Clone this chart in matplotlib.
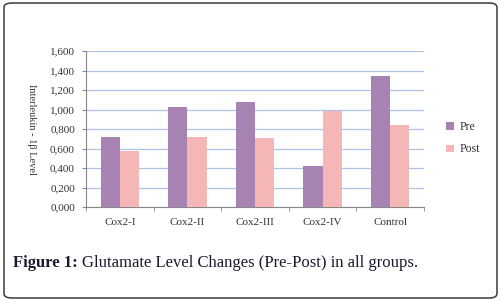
import numpy as np
import matplotlib
matplotlib.use("Agg")
import matplotlib.pyplot as plt
from matplotlib.patches import FancyBboxPatch
from matplotlib.ticker import FuncFormatter

groups = ["Cox2-I", "Cox2-II", "Cox2-III", "Cox2-IV", "Control"]
pre = [0.715, 1.022, 1.077, 0.424, 1.347]
post = [0.574, 0.718, 0.704, 0.988, 0.844]
series_names = ["Pre", "Post"]

plt.rcParams['font.family'] = ['Liberation Serif', 'DejaVu Serif']

fig = plt.figure(figsize=(5.01, 3.01), dpi=100)

# rounded frame around the whole figure
frame = FancyBboxPatch((0.008, 0.01), 0.984, 0.98,
                       boxstyle="round,pad=0,rounding_size=0.015",
                       transform=fig.transFigure, fill=False,
                       edgecolor="#3a3a3a", linewidth=1.1)
fig.patches.append(frame)

ax = fig.add_axes([0.1717, 0.312, 0.6746, 0.5186])
x = np.arange(len(groups))
w = 0.285
ax.bar(x - w / 2, pre, w, color="#A683B3", label=series_names[0], zorder=3)
ax.bar(x + w / 2, post, w, color="#F5B6B6", label=series_names[1], zorder=3)

ax.set_xlim(-0.5, len(groups) - 0.5)
ax.set_ylim(0, 1.6)
ax.set_yticks(np.arange(0, 1.61, 0.2))
ax.yaxis.set_major_formatter(FuncFormatter(lambda v, p: f"{v:.3f}".replace(".", ",")))
ax.yaxis.grid(True, color="#A9C4E6", linewidth=0.9, zorder=0)

ax.set_xticks(x)
ax.set_xticklabels(groups)
ax.set_xticks(np.arange(-0.5, len(groups)), minor=True)
ax.tick_params(axis="x", which="major", length=0, pad=8)
ax.tick_params(axis="x", which="minor", length=3, color="#888888", direction="out")
ax.tick_params(axis="y", length=3, color="#888888", direction="out", pad=5)
ax.tick_params(labelsize=8, labelcolor="#333333")

for s in ["top", "right"]:
    ax.spines[s].set_visible(False)
ax.spines["left"].set_color("#888888")
ax.spines["bottom"].set_color("#888888")
ax.spines["left"].set_linewidth(0.8)
ax.spines["bottom"].set_linewidth(0.8)

ax.set_ylabel("Interleukin - 1β Level", rotation=-90, fontsize=7.5,
              color="#333333", va="center")
ax.yaxis.set_label_coords(-0.16, 0.5)

ax.legend(loc="center left", bbox_to_anchor=(1.035, 0.44), frameon=False,
          fontsize=8.5, handlelength=0.6, handleheight=0.6,
          labelspacing=0.85, handletextpad=0.5, labelcolor="#333333")

cap_y = 0.125
t1 = fig.text(0.026, cap_y, "Figure 1:", fontsize=12, fontweight="bold",
              color="#1a1a2e", va="center")
fig.canvas.draw()
bb = t1.get_window_extent()
x2 = (bb.x1 + 4) / fig.bbox.width
fig.text(x2, cap_y, "Glutamate Level Changes (Pre-Post) in all groups.",
         fontsize=12, color="#1a1a2e", va="center")

fig.savefig("out.png", dpi=100)
